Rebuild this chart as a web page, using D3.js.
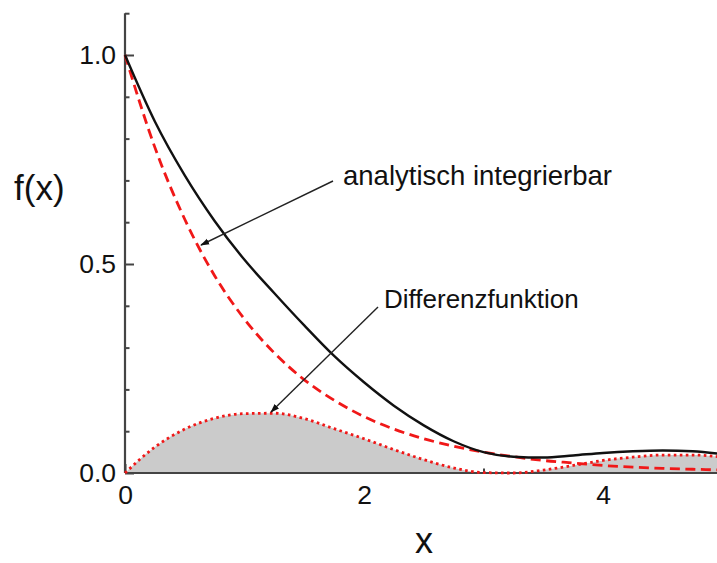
<!DOCTYPE html>
<html>
<head>
<meta charset="utf-8">
<script src="https://cdn.jsdelivr.net/npm/d3@7"></script>
<style>
  html, body { margin: 0; padding: 0; background: #fff; }
  svg { display: block; }
  text { font-family: "Liberation Sans", Arial, Helvetica, sans-serif; fill: #111; }
</style>
</head>
<body>
<svg id="chart" width="717" height="563"></svg>
<script>
// ---- data ----
const xValues       = [0, 0.25, 0.5, 0.75, 1.0, 1.25, 1.5, 1.75, 2.0, 2.25, 2.5, 2.75, 3.0, 3.25, 3.5, 3.75, 4.0, 4.25, 4.5, 4.75, 5.0];
const exactValues   = [1.000, 0.841, 0.712, 0.603, 0.510, 0.430, 0.353, 0.280, 0.217, 0.161, 0.114, 0.076, 0.050, 0.039, 0.037, 0.042, 0.048, 0.052, 0.054, 0.052, 0.045];
const analytValues  = [1.000, 0.779, 0.607, 0.472, 0.368, 0.287, 0.223, 0.174, 0.135, 0.105, 0.082, 0.064, 0.050, 0.039, 0.030, 0.024, 0.018, 0.014, 0.011, 0.009, 0.007];
const diffValues    = [0.000, 0.062, 0.105, 0.131, 0.142, 0.143, 0.130, 0.106, 0.082, 0.056, 0.032, 0.012, 0.001, 0.000, 0.007, 0.018, 0.030, 0.038, 0.043, 0.043, 0.038];
const yMajorTicks   = [0.0, 0.5, 1.0];
const yMinorTicks   = [0.1, 0.2, 0.3, 0.4, 0.6, 0.7, 0.8, 0.9, 1.1];
const xMajorTicks   = [0, 2, 4];
const xMinorTicks   = [1, 3, 5];
const xTitle = "x";
const yTitle = "f(x)";
const annotations = ["analytisch integrierbar", "Differenzfunktion"];

// ---- drawing ----
const svg = d3.select("#chart");
const x = d3.scaleLinear().domain([0, 5]).range([125, 722.5]);
const y = d3.scaleLinear().domain([0, 1.1]).range([473, 13.2]);

const axisColor = "#444";
const fontSize = 26.5;

// y axis ticks (inward)
const gyMinor = svg.append("g").attr("transform", `translate(${x(0)},0)`)
  .call(d3.axisLeft(y).tickValues(yMinorTicks).tickSize(-4.5).tickFormat(""));
const gyMajor = svg.append("g").attr("transform", `translate(${x(0)},0)`)
  .call(d3.axisLeft(y).tickValues(yMajorTicks).tickSize(-9).tickPadding(9).tickFormat(d3.format(".1f")));
// x axis ticks (inward)
const gxMinor = svg.append("g").attr("transform", `translate(0,${y(0)})`)
  .call(d3.axisBottom(x).tickValues(xMinorTicks).tickSize(-4.5).tickFormat(""));
const gxMajor = svg.append("g").attr("transform", `translate(0,${y(0)})`)
  .call(d3.axisBottom(x).tickValues(xMajorTicks).tickSize(-9).tickPadding(12).tickFormat(d3.format("d")));

[gyMinor, gyMajor, gxMinor, gxMajor].forEach(g => {
  g.select(".domain").remove();
  g.selectAll(".tick line").attr("stroke", axisColor).attr("stroke-width", 2);
  g.selectAll(".tick text").style("font-size", fontSize + "px")
    .style("font-family", '"Liberation Sans", Arial, sans-serif').attr("fill", "#111");
});

const pts = (vals) => xValues.map((d, i) => [d, vals[i]]);

// grey area under the difference function
svg.append("path")
  .datum(pts(diffValues))
  .attr("fill", "#cbcbcb")
  .attr("d", d3.area().x(d => x(d[0])).y0(y(0)).y1(d => y(d[1])).curve(d3.curveMonotoneX));

// axis lines (on top of the fill)
svg.append("line").attr("x1", x(0)).attr("x2", x(0)).attr("y1", y(0)).attr("y2", y(1.1))
  .attr("stroke", axisColor).attr("stroke-width", 2.2);
svg.append("line").attr("x1", x(0)).attr("x2", x(5)).attr("y1", y(0)).attr("y2", y(0))
  .attr("stroke", axisColor).attr("stroke-width", 2.2);

const line = d3.line().x(d => x(d[0])).y(d => y(d[1])).curve(d3.curveMonotoneX);

// difference function (red dotted)
svg.append("path").datum(pts(diffValues))
  .attr("fill", "none").attr("stroke", "#f01818").attr("stroke-width", 2.8)
  .attr("stroke-dasharray", "2.6,3.4").attr("d", line);

// analytically integrable (red dashed)
svg.append("path").datum(pts(analytValues))
  .attr("fill", "none").attr("stroke", "#f01818").attr("stroke-width", 2.8)
  .attr("stroke-dasharray", "10,5.5").attr("d", line);

// exact function (black)
svg.append("path").datum(pts(exactValues))
  .attr("fill", "none").attr("stroke", "#111").attr("stroke-width", 2.4).attr("d", line);

// arrows
const defs = svg.append("defs");
defs.append("marker").attr("id", "arrow").attr("viewBox", "0 0 10 10")
  .attr("refX", 9).attr("refY", 5).attr("markerWidth", 9).attr("markerHeight", 9)
  .attr("markerUnits", "userSpaceOnUse").attr("orient", "auto")
  .append("path").attr("d", "M0,1.5 L10,5 L0,8.5 Z").attr("fill", "#111");

svg.append("line").attr("x1", 333).attr("y1", 181).attr("x2", 201).attr("y2", 245)
  .attr("stroke", "#222").attr("stroke-width", 1.4).attr("marker-end", "url(#arrow)");
svg.append("line").attr("x1", 378).attr("y1", 307).attr("x2", 271).attr("y2", 412)
  .attr("stroke", "#222").attr("stroke-width", 1.4).attr("marker-end", "url(#arrow)");

svg.append("text").attr("x", 343).attr("y", 185).style("font-size", "27.5px").text(annotations[0]);
svg.append("text").attr("x", 384).attr("y", 308).style("font-size", "26px").text(annotations[1]);

// axis titles
svg.append("text").attr("x", 424).attr("y", 553).attr("text-anchor", "middle")
  .style("font-size", "36px").text(xTitle);
svg.append("text").attr("x", 14).attr("y", 200)
  .style("font-size", "35px").text(yTitle);
</script>
</body>
</html>
